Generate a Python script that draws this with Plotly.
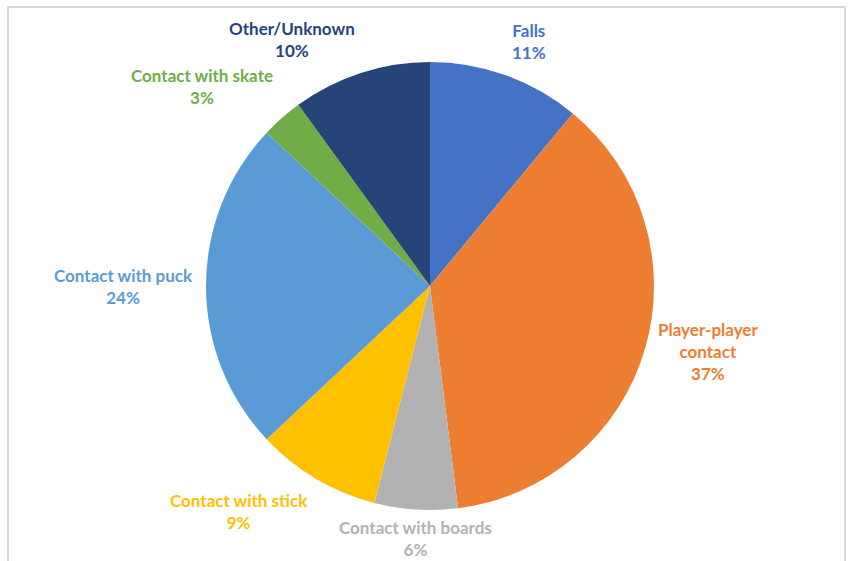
import math
import plotly.graph_objects as go

# Injury mechanisms (share of injuries, %)
categories = ["Falls", "Player-player contact", "Contact with boards",
              "Contact with stick", "Contact with puck", "Contact with skate",
              "Other/Unknown"]
label_text = ["Falls", "Player-player<br>contact", "Contact with boards",
              "Contact with stick", "Contact with puck", "Contact with skate",
              "Other/Unknown"]
values = [11, 37, 6, 9, 24, 3, 10]
colors = ["#4472C4", "#ED7D31", "#B2B2B2", "#FFC000", "#5B9BD5", "#70AD47", "#264478"]

W, H = 849, 561
cx, cy, r = 430, 286, 224  # pie centre and radius in pixels
FONT_SIZE = 17

fig = go.Figure(go.Pie(
    labels=categories,
    values=values,
    sort=False,
    direction="clockwise",
    rotation=0,
    marker=dict(colors=colors, line=dict(width=0)),
    textinfo="none",
    hoverinfo="label+percent",
    showlegend=False,
    domain=dict(x=[(cx - r) / W, (cx + r) / W], y=[(H - cy - r) / H, (H - cy + r) / H]),
))

# Outside data labels, anchored just beyond the rim at each slice's mid-angle
total = sum(values)
cum = 0
annotations = []
for name, v, col in zip(label_text, values, colors):
    mid = (cum + v / 2) / total * 2 * math.pi
    cum += v
    s, c = math.sin(mid), math.cos(mid)
    rr = r + 11
    px = cx + rr * s
    py = cy - rr * c
    xa = "left" if s > 0.3 else ("right" if s < -0.3 else "center")
    ya = "bottom" if c > 0.3 else ("top" if c < -0.3 else "middle")
    n_lines = name.count("<br>") + 2
    if ya == "top":
        # keep labels below the pie inside the chart area
        py = min(py, H - n_lines * FONT_SIZE * 1.3 - 2)
    annotations.append(dict(
        x=px / W, y=1 - py / H, xref="paper", yref="paper",
        xanchor=xa, yanchor=ya, showarrow=False, align="center",
        text=f"<b>{name}<br>{round(v / total * 100)}%</b>",
        font=dict(family="Lato, 'Open Sans', sans-serif", size=FONT_SIZE, color=col),
    ))

fig.update_layout(
    width=W, height=H,
    margin=dict(l=0, r=0, t=0, b=0),
    paper_bgcolor="white",
    plot_bgcolor="white",
    annotations=annotations,
    shapes=[dict(type="rect", xref="paper", yref="paper",
                 x0=8 / W, x1=845 / W, y0=-0.02, y1=1 - 7 / H,
                 line=dict(color="#D9D9D9", width=2), layer="below")],
)

fig.write_html("out.html")
